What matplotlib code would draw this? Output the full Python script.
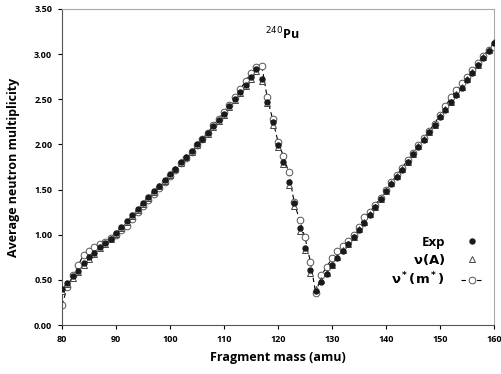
import numpy as np
from matplotlib import pyplot as plt

mass = list(range(80, 161))

exp_nu = [0.40, 0.47, 0.54, 0.60, 0.69, 0.75, 0.80, 0.86, 0.91, 0.95,
          1.02, 1.08, 1.15, 1.22, 1.28, 1.35, 1.42, 1.48, 1.54, 1.61,
          1.67, 1.73, 1.80, 1.86, 1.93, 2.00, 2.06, 2.13, 2.20, 2.27,
          2.34, 2.42, 2.50, 2.58, 2.66, 2.75, 2.83, 2.72, 2.47, 2.25,
          1.99, 1.80, 1.58, 1.35, 1.07, 0.85, 0.61, 0.38, 0.48, 0.56,
          0.66, 0.74, 0.82, 0.90, 0.97, 1.05, 1.13, 1.22, 1.31, 1.40,
          1.48, 1.56, 1.64, 1.72, 1.81, 1.89, 1.97, 2.05, 2.14, 2.22,
          2.30, 2.38, 2.47, 2.55, 2.63, 2.71, 2.79, 2.88, 2.96, 3.04,
          3.12]

nu_a = [0.38, 0.45, 0.52, 0.59, 0.67, 0.73, 0.79, 0.85, 0.90, 0.95,
        1.01, 1.07, 1.14, 1.21, 1.27, 1.34, 1.41, 1.47, 1.54, 1.60,
        1.66, 1.73, 1.79, 1.86, 1.92, 1.99, 2.06, 2.12, 2.19, 2.26,
        2.33, 2.41, 2.49, 2.57, 2.65, 2.73, 2.81, 2.70, 2.46, 2.22,
        1.97, 1.78, 1.55, 1.32, 1.04, 0.83, 0.58, 0.40, 0.50, 0.58,
        0.67, 0.75, 0.83, 0.90, 0.98, 1.06, 1.14, 1.23, 1.31, 1.40,
        1.48, 1.57, 1.65, 1.73, 1.81, 1.89, 1.98, 2.06, 2.14, 2.22,
        2.31, 2.39, 2.47, 2.56, 2.64, 2.72, 2.80, 2.88, 2.97, 3.05,
        3.13]

nu_m = [0.22, 0.42, 0.55, 0.66, 0.78, 0.82, 0.86, 0.90, 0.92, 0.96,
        1.00, 1.05, 1.10, 1.17, 1.25, 1.32, 1.38, 1.45, 1.52, 1.58,
        1.65, 1.72, 1.79, 1.85, 1.92, 1.99, 2.06, 2.13, 2.21, 2.28,
        2.36, 2.44, 2.52, 2.61, 2.70, 2.79, 2.86, 2.87, 2.52, 2.28,
        2.03, 1.87, 1.69, 1.36, 1.16, 0.97, 0.70, 0.35, 0.55, 0.64,
        0.74, 0.82, 0.88, 0.93, 1.00, 1.08, 1.20, 1.25, 1.33, 1.41,
        1.49, 1.58, 1.66, 1.74, 1.83, 1.91, 1.99, 2.07, 2.15, 2.23,
        2.33, 2.42, 2.52, 2.60, 2.68, 2.75, 2.82, 2.90, 2.98, 3.05,
        3.08]

plt.rcParams['font.family'] = ['Open Sans', 'DejaVu Sans']

fig = plt.figure(figsize=(5.02, 3.74), dpi=100)
ax = fig.add_axes([0.1235, 0.131, 0.8605, 0.845])

ax.plot(mass, nu_m, linestyle=(0, (4, 3)), color="black", linewidth=0.8,
        marker='o', markersize=4.8, markerfacecolor="white",
        markeredgecolor="#555555", markeredgewidth=0.7,
        label=r"$\mathbf{\nu^*(m^*)}$", zorder=2)
ax.plot(mass, nu_a, linestyle="none", marker='^', markersize=4.2,
        markerfacecolor="white", markeredgecolor="#444444", markeredgewidth=0.7,
        label=r"$\mathbf{\nu(A)}$", zorder=3)
ax.plot(mass, exp_nu, linestyle="none", marker='o', markersize=3.6,
        color="#1a1a1a", label="Exp", zorder=4)

ax.set_xlim(80, 160)
ax.set_ylim(0, 3.5)
ax.set_xticks(np.arange(80, 161, 10))
ax.set_yticks(np.arange(0, 3.51, 0.5))
ax.set_yticklabels([f"{v:.2f}" for v in np.arange(0, 3.51, 0.5)])
ax.tick_params(labelsize=6.5, direction="out", length=3, width=0.8, pad=4)
for lab in ax.get_xticklabels() + ax.get_yticklabels():
    lab.set_fontweight("bold")

for side in ["left", "bottom"]:
    ax.spines[side].set_color("#555555")
for side in ["top", "right"]:
    ax.spines[side].set_color("#aaaaaa")

ax.set_xlabel("Fragment mass (amu)", fontsize=9, fontweight="bold", labelpad=5)
ax.set_ylabel("Average neutron multiplicity", fontsize=9, fontweight="bold", labelpad=10)

ax.text(0.51, 0.92, r"$^{240}$Pu", transform=ax.transAxes, fontsize=9,
        fontweight="bold", ha="center", va="center")

handles, labels = ax.get_legend_handles_labels()
order = [2, 1, 0]
ax.legend([handles[i] for i in order], [labels[i] for i in order],
          loc="lower right", bbox_to_anchor=(1.0, 0.08), frameon=False,
          markerfirst=False, prop={'size': 9.5, 'weight': 'bold'},
          handlelength=1.6, handletextpad=1.2, labelspacing=0.25)

fig.savefig("out.png", dpi=100)
